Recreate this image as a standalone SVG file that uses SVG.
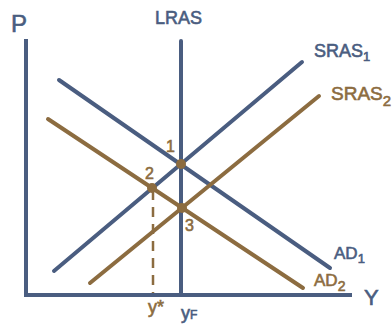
<svg xmlns="http://www.w3.org/2000/svg" width="392" height="324" viewBox="0 0 392 324">
<style>
.b{stroke:#4a5d80;stroke-width:4;stroke-linecap:round;fill:none}
.o{stroke:#8c6c40;stroke-width:4;stroke-linecap:round;fill:none}
.tb{fill:#4a5d80;stroke:#4a5d80;stroke-width:0.6;font-family:"Liberation Sans",Arial,sans-serif}
.to{fill:#8c6c40;stroke:#8c6c40;stroke-width:0.6;font-family:"Liberation Sans",Arial,sans-serif}
</style>
<rect width="392" height="324" fill="#ffffff"/>
<g id="axes">
<path class="b" d="M26,39 V295 H352" style="stroke-linecap:butt"/>
<text class="tb" x="11" y="32" font-size="24">P</text>
<text class="tb" x="364" y="305" font-size="22">Y</text>
</g>
<g id="connectors">
<line class="b" x1="181" y1="41" x2="181" y2="295"/>
<line class="b" x1="59" y1="80" x2="330" y2="268"/>
<line class="b" x1="54" y1="271" x2="302" y2="62"/>
<line class="o" x1="90" y1="283" x2="319" y2="96"/>
<line class="o" x1="48" y1="119" x2="303" y2="288"/>
<line class="o" x1="153" y1="190" x2="153" y2="293" stroke-dasharray="10,7" style="stroke-width:2.5;stroke-linecap:butt"/>
</g>
<g id="LRAS"><text class="tb" x="155" y="24" font-size="18">LRAS</text></g>
<g id="SRAS1"><text class="tb" x="314" y="57" font-size="18">SRAS<tspan font-size="13" dy="4">1</tspan></text></g>
<g id="SRAS2"><text class="to" x="331" y="100" font-size="19">SRAS<tspan font-size="15" dy="6">2</tspan></text></g>
<g id="AD1"><text class="tb" x="334" y="259" font-size="17">AD<tspan font-size="13" dy="4">1</tspan></text></g>
<g id="AD2"><text class="to" x="314" y="286" font-size="17">AD<tspan font-size="14" dy="5">2</tspan></text></g>
<g id="p1"><circle cx="181" cy="164" r="5" fill="#8c6c40"/><text class="to" x="166" y="152" font-size="16">1</text></g>
<g id="p2"><circle cx="152" cy="188" r="5" fill="#8c6c40"/><text class="to" x="145" y="179" font-size="16">2</text></g>
<g id="p3"><circle cx="182" cy="208" r="5" fill="#8c6c40"/><text class="to" x="185" y="231" font-size="16">3</text></g>
<g id="ystar"><text class="to" x="148" y="313" font-size="18">y*</text></g>
<g id="yF"><text class="tb" x="181" y="319" font-size="18">y<tspan font-size="12" dy="0">F</tspan></text></g>
</svg>
